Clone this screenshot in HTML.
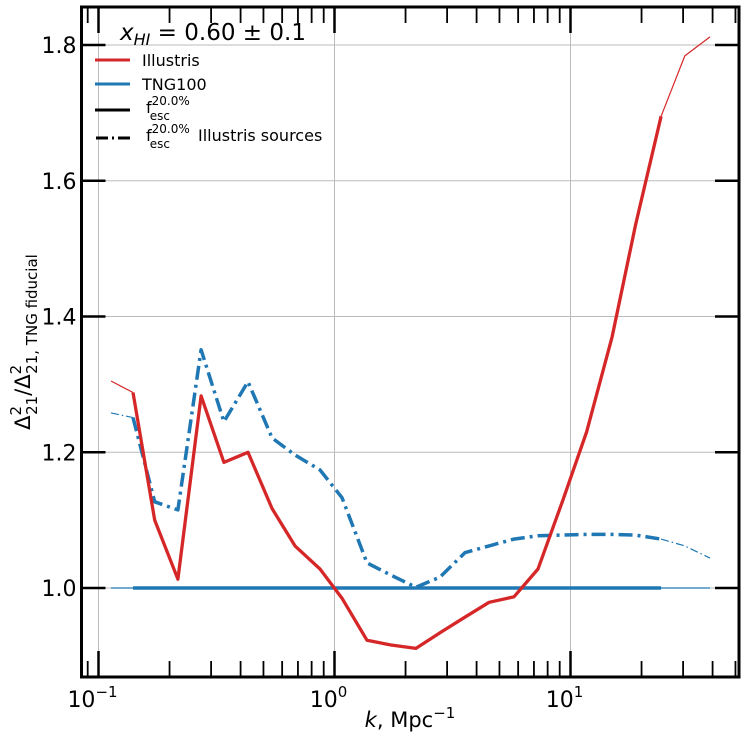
<!DOCTYPE html>
<html><head><meta charset="utf-8"><style>
body{margin:0;background:#fff}
svg text{font-family:"DejaVu Sans","Liberation Sans",sans-serif;fill:#000}
</style></head><body>
<svg id="chart" width="747" height="743" xmlns="http://www.w3.org/2000/svg">
<g id="grid"></g>
<g id="series"></g>
<g id="axes"></g>
<g id="legend">
<text x="120" y="40" font-size="23" font-style="italic">x<tspan font-size="16" dy="5">HI</tspan><tspan font-style="normal" dy="-5"> = 0.60 ± 0.1</tspan></text>
<line x1="95" y1="60" x2="130" y2="60" stroke="#d62728" stroke-width="3"/>
<text x="142" y="66" font-size="16">Illustris</text>
<line x1="95" y1="84" x2="130" y2="84" stroke="#1f77b4" stroke-width="3"/>
<text x="142" y="90" font-size="16">TNG100</text>
<line x1="95" y1="110" x2="130" y2="110" stroke="#000" stroke-width="3"/>
<text x="146" y="113" font-size="16">f<tspan font-size="12" dy="-8">20.0%</tspan><tspan font-size="12" dx="-40" dy="15">esc</tspan></text>
<line x1="96" y1="138" x2="130" y2="138" stroke="#000" stroke-width="3" stroke-dasharray="12,4,2,4"/>
<text x="146" y="141" font-size="16">f<tspan font-size="12" dy="-8">20.0%</tspan><tspan font-size="12" dx="-40" dy="15">esc</tspan><tspan dx="28" dy="-7">Illustris sources</tspan></text>
</g>
<text x="410" y="727" font-size="21" text-anchor="middle"><tspan font-style="italic">k</tspan>, Mpc<tspan font-size="15" dy="-9">−1</tspan></text>
<text transform="translate(30,342) rotate(-90)" font-size="21" text-anchor="middle">Δ<tspan font-size="15" dy="-9">2</tspan><tspan font-size="15" dx="-9" dy="16">21</tspan><tspan dy="-7">/Δ</tspan><tspan font-size="15" dy="-9">2</tspan><tspan font-size="15" dx="-9" dy="16">21, TNG fiducial</tspan></text>
</svg>
<script>
const kValues=[0.113,0.140,0.173,0.217,0.272,0.340,0.430,0.544,0.680,0.868,1.076,1.373,1.735,2.213,2.80,3.57,4.52,5.76,7.28,9.29,11.7,15.0,18.9,24.2,30.5,39.0];
const illustris=[1.305,1.288,1.100,1.013,1.283,1.185,1.200,1.117,1.062,1.028,0.985,0.923,0.916,0.911,0.934,0.957,0.979,0.987,1.028,1.13,1.23,1.37,1.536,1.695,1.784,1.812];
const tngIllustrisSources=[1.258,1.251,1.127,1.115,1.351,1.245,1.304,1.221,1.196,1.174,1.133,1.037,1.019,1.001,1.016,1.052,1.062,1.072,1.077,1.078,1.079,1.079,1.078,1.072,1.062,1.044];
const tngFiducial=[1,1,1,1,1,1,1,1,1,1,1,1,1,1,1,1,1,1,1,1,1,1,1,1,1,1];
const yTicks=[1.0,1.2,1.4,1.6,1.8];
const yTickLabels=["1.0","1.2","1.4","1.6","1.8"];
const xDecades=[-1,0,1];
const xTickLabels=["10","10","10"];
const xTickExps=["−1","0","1"];

const L=81.5,R=739,T=7,B=677;
const X=k=>334.5+Math.log10(k)*236;
const Y=v=>588-(v-1)*678.75;
const NS="http://www.w3.org/2000/svg";
function mk(tag,attrs,parent){const e=document.createElementNS(NS,tag);for(const a in attrs)e.setAttribute(a,attrs[a]);parent.appendChild(e);return e;}
const grid=document.getElementById('grid'),axes=document.getElementById('axes'),ser=document.getElementById('series');

yTicks.forEach((v,i)=>{
 const g=mk('line',{x1:L,x2:R,y1:Y(v),y2:Y(v),stroke:'#bbb','stroke-width':1},grid);
 
 
 [[L,L+24],[R,R-24]].forEach(p=>{const t=mk('line',{x1:p[0],x2:p[1],y1:Y(v),y2:Y(v),stroke:'#000','stroke-width':2.5},axes);
 
 });
 const tx=mk('text',{x:L-5,y:Y(v)+8,'font-size':22,'text-anchor':'end'},axes);
 tx.textContent=yTickLabels[i];
 
 
});
xDecades.forEach((d,i)=>{
 const x=X(Math.pow(10,d));
 const g=mk('line',{x1:x,x2:x,y1:T,y2:B,stroke:'#bbb','stroke-width':1},grid);
 
 
 const tx=mk('text',{x:x-6,y:B+30,'font-size':22,'text-anchor':'middle'},axes);
 tx.textContent=xTickLabels[i];
 
 
 const ex=mk('tspan',{'font-size':15,dy:-10},tx);ex.textContent=xTickExps[i];
});
for(let d=-2;d<=1;d++){for(let m=1;m<10;m++){
 const x=X(m*Math.pow(10,d));if(x<L+1||x>R-1)continue;
 const len=m===1?26:16;
 [[B,B-len],[T,T+len]].forEach(p=>{const t=mk('line',{x1:x,x2:x,y1:p[0],y2:p[1],stroke:'#000','stroke-width':m===1?2.5:1.8},axes);
 
 });
}}
const frame=mk('rect',{x:L,y:T,width:R-L,height:B-T,fill:'none',stroke:'#000','stroke-width':3},axes);



function line(vals,i0,i1,color,w,dash,name){
 const pts=[];for(let i=i0;i<=i1;i++)pts.push(X(kValues[i]).toFixed(1)+','+Y(vals[i]).toFixed(1));
 const p=mk('polyline',{points:pts.join(' '),fill:'none',stroke:color,'stroke-width':w,'stroke-linejoin':'round'},ser);
 if(dash)p.setAttribute('stroke-dasharray',dash);
 
 
}
const n=kValues.length-1;
line(tngFiducial,0,1,'#1f77b4',1.2,null,'tng-fiducial-line-thin');
line(tngFiducial,1,n-2,'#1f77b4',3.5,null,'tng-fiducial-line');
line(tngFiducial,n-2,n,'#1f77b4',1.2,null,'tng-fiducial-line-thin');
line(tngIllustrisSources,0,1,'#1f77b4',1.2,'8,3,1.5,3','tng-illustris-sources-line-thin');
line(tngIllustrisSources,1,n-2,'#1f77b4',3.5,'14,5,3,5','tng-illustris-sources-line');
line(tngIllustrisSources,n-2,n,'#1f77b4',1.2,'8,3,1.5,3','tng-illustris-sources-line-thin');
line(illustris,0,1,'#d62728',1.2,null,'illustris-line-thin');
line(illustris,1,n-2,'#d62728',3.3,null,'illustris-line');
line(illustris,n-2,n,'#d62728',1.2,null,'illustris-line-thin');
</script>
</body></html>
